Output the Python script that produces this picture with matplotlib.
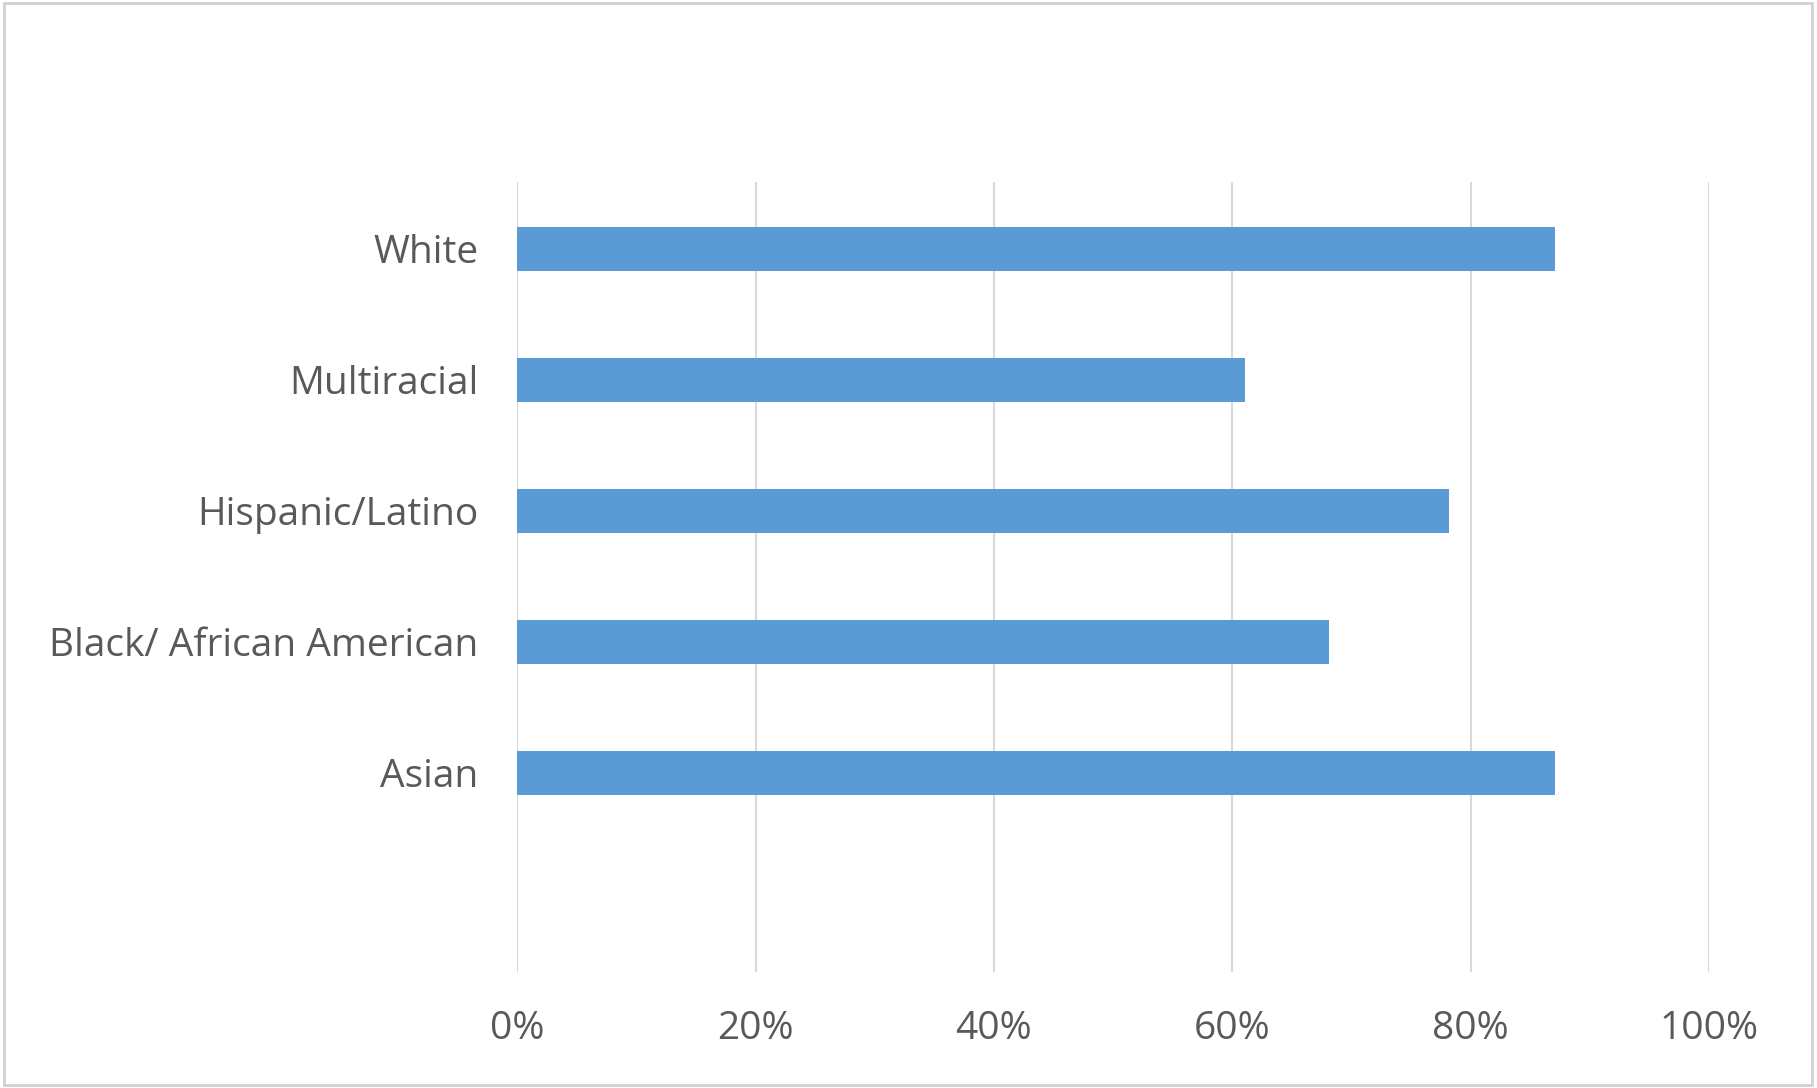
import matplotlib
matplotlib.use("Agg")
from matplotlib import pyplot as plt
from matplotlib.ticker import PercentFormatter
from matplotlib.patches import Rectangle

# categories listed bottom to top
groups = ["Asian", "Black/ African American", "Hispanic/Latino", "Multiracial", "White"]
shares = [87.1, 68.1, 78.2, 61.1, 87.1]
x_ticks = [0, 20, 40, 60, 80, 100]

bar_color = "#5B9BD5"
text_color = "#595959"
grid_color = "#D9D9D9"

plt.rcParams['font.family'] = ['Open Sans', 'DejaVu Sans']

fig = plt.figure(figsize=(18.17, 10.88), dpi=100)
ax = fig.add_axes([0.2847, 0.1066, 0.6558, 0.7261])

ax.barh(range(len(groups)), shares, height=0.34, color=bar_color, zorder=3)

ax.set_xlim(0, 100)
ax.set_ylim(-1.52, 4.51)
ax.set_xticks(x_ticks)
ax.xaxis.set_major_formatter(PercentFormatter(decimals=0))
ax.set_yticks(range(len(groups)))
ax.set_yticklabels(groups)

ax.grid(axis="x", color=grid_color, linewidth=1.5, zorder=0)
for side in ["top", "right", "bottom", "left"]:
    ax.spines[side].set_visible(False)
ax.tick_params(axis="both", length=0, labelcolor=text_color)
ax.tick_params(axis="x", pad=27, labelsize=28)
ax.tick_params(axis="y", pad=28, labelsize=28)

# thin frame round the whole chart
fig.patches.append(Rectangle((0.002, 0.003), 0.995, 0.994, transform=fig.transFigure,
                             fill=False, edgecolor="#D0D0D0", linewidth=2))

fig.savefig("out.png", dpi=100)
